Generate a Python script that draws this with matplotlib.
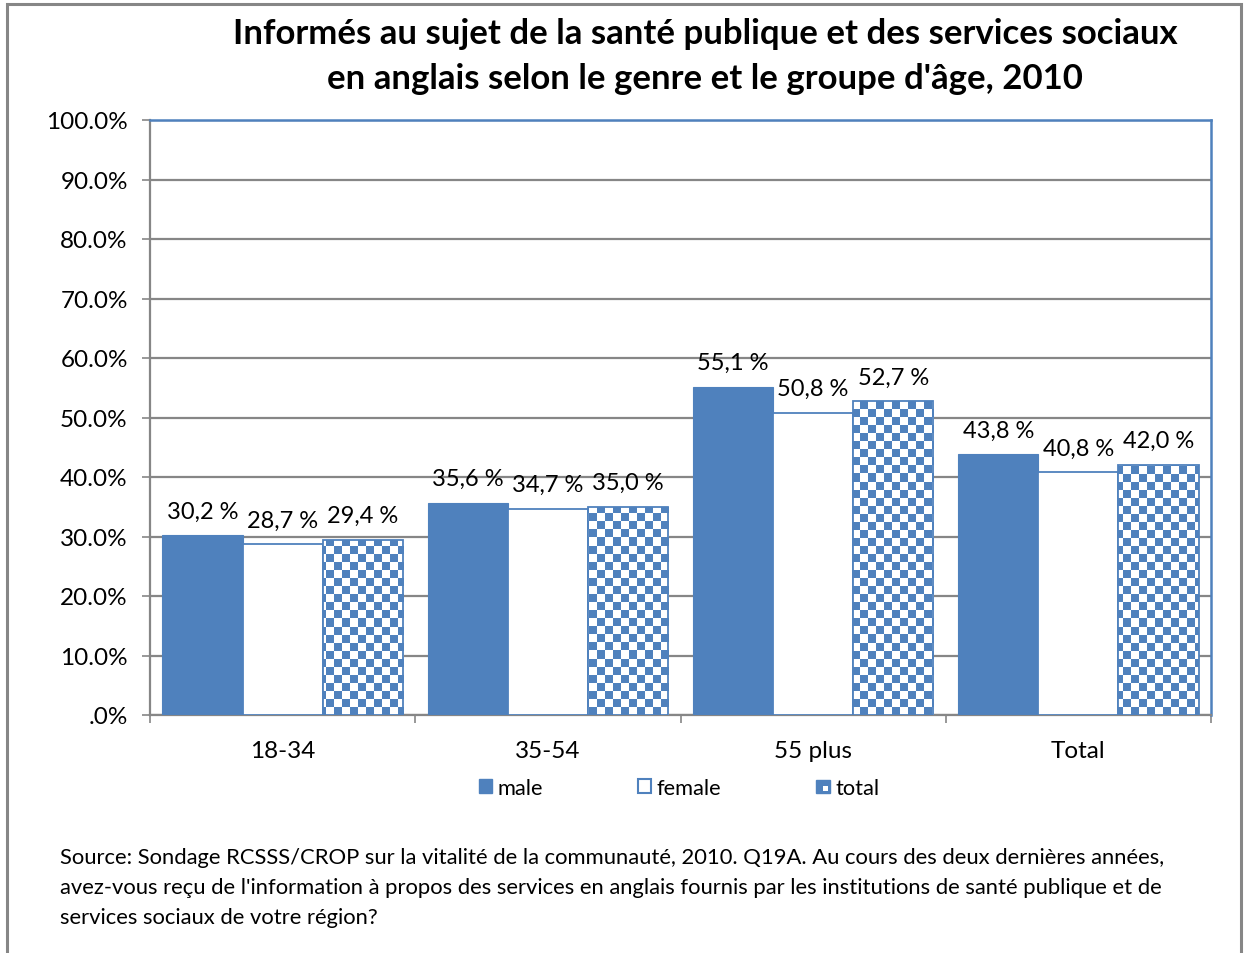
import numpy as np
import matplotlib
matplotlib.use('Agg')
import matplotlib.pyplot as plt
from matplotlib.patches import Rectangle
from matplotlib.colors import ListedColormap
from matplotlib.legend_handler import HandlerBase

categories = ['18-34', '35-54', '55 plus', 'Total']
male = [30.2, 35.6, 55.1, 43.8]
female = [28.7, 34.7, 50.8, 40.8]
total = [29.4, 35.0, 52.7, 42.0]
series_names = ['male', 'female', 'total']
yticks = [0, 10, 20, 30, 40, 50, 60, 70, 80, 90, 100]
ytick_labels = ['.0%', '10.0%', '20.0%', '30.0%', '40.0%', '50.0%',
                '60.0%', '70.0%', '80.0%', '90.0%', '100.0%']
title = ("Informés au sujet de la santé publique et des services sociaux\n"
         "en anglais selon le genre et le groupe d'âge, 2010")
source_lines = [
    "Source: Sondage RCSSS/CROP sur la vitalité de la communauté, 2010. Q19A. Au cours des deux dernières années,",
    "avez-vous reçu de l'information à propos des services en anglais fournis par les institutions de santé publique et de",
    "services sociaux de votre région?",
]

BLUE = '#4F81BD'
GRAY = '#868686'
plt.rcParams['font.family'] = ['Lato', 'DejaVu Sans']

W, H = 1244, 954
fig = plt.figure(figsize=(W / 100, H / 100), dpi=100)
fig.patches.append(Rectangle((7 / W, -0.02), (1241 - 7) / W, 1 - 5 / H + 0.02,
                             transform=fig.transFigure, fill=False,
                             edgecolor=GRAY, linewidth=2.2))

ax = fig.add_axes([150 / W, 1 - 716 / H, (1211 - 150) / W, (716 - 121) / H])
x = np.arange(len(categories))
w = 0.302

ax.bar(x - w, male, w, color=BLUE, edgecolor=BLUE, linewidth=0.8, zorder=3)
ax.bar(x, female, w, color='white', edgecolor=BLUE, linewidth=1.3, zorder=3)
bt = ax.bar(x + w, total, w, color='none', edgecolor=BLUE, linewidth=1.3, zorder=5)

# checkerboard fill for "total" bars
nx, ny = 133, 74
ii, jj = np.indices((ny, nx))
checker = (ii + jj) % 2
cmap = ListedColormap(['white', BLUE])
for p in bt.patches:
    im = ax.imshow(checker, extent=(-0.5, 3.5, 0, 100), aspect='auto',
                   interpolation='nearest', cmap=cmap, zorder=4, origin='lower')
    im.set_clip_path(p)

ax.set_xlim(-0.5, 3.5)
ax.set_ylim(0, 100)

for vals, off in ((male, -w), (female, 0), (total, w)):
    for xi, v in zip(x, vals):
        ax.annotate(f"{v:.1f} %".replace('.', ','), (xi + off, v),
                    xytext=(0, 10), textcoords='offset points',
                    ha='center', va='bottom', fontsize=17, zorder=6)

ax.set_yticks(yticks)
ax.set_yticklabels(ytick_labels, fontsize=17.5)
ax.yaxis.grid(True, color=GRAY, linewidth=1.6, zorder=0)
ax.set_axisbelow(True)
ax.tick_params(axis='y', direction='out', length=6, width=1.2, color=GRAY, pad=10)

ax.set_xticks(np.arange(-0.5, 4, 1))
ax.set_xticklabels([])
ax.set_xticks(x, minor=True)
ax.set_xticklabels(categories, minor=True, fontsize=17.5)
ax.tick_params(axis='x', which='major', direction='out', length=6, width=1.2, color=GRAY)
ax.tick_params(axis='x', which='minor', length=0, pad=18)

for s in ('left', 'bottom'):
    ax.spines[s].set_color(GRAY)
    ax.spines[s].set_linewidth(1.6)
for s in ('top', 'right'):
    ax.spines[s].set_color(BLUE)
    ax.spines[s].set_linewidth(1.8)


class CheckerHandler(HandlerBase):
    def create_artists(self, legend, orig_handle, xdescent, ydescent,
                       width, height, fontsize, trans):
        s = min(width, height)
        x0, y0 = -xdescent, -ydescent + (height - s) / 2
        outer = Rectangle((x0, y0), s, s, facecolor=BLUE, edgecolor=BLUE,
                          linewidth=1, transform=trans)
        inner = Rectangle((x0 + s / 2, y0 + s * 0.15), s * 0.35, s * 0.35,
                          facecolor='white', edgecolor='none', transform=trans)
        return [outer, inner]


h_male = Rectangle((0, 0), 1, 1, facecolor=BLUE, edgecolor=BLUE)
h_female = Rectangle((0, 0), 1, 1, facecolor='white', edgecolor=BLUE, linewidth=1.5)
h_total = Rectangle((0, 0), 1, 1)
fig.legend([h_male, h_female, h_total], series_names,
           loc='center', bbox_to_anchor=(679 / W, 1 - 789 / H), ncol=3,
           frameon=False, fontsize=15.75, handlelength=0.6, handleheight=0.6,
           handletextpad=0.25, columnspacing=4.35,
           handler_map={h_total: CheckerHandler()})

fig.text(705 / W, 1 - 56.5 / H, title, ha='center', va='center',
         fontsize=25, fontweight='bold', linespacing=1.5)

for i, line in enumerate(source_lines):
    fig.text(60 / W, 1 - (858 + 30 * i) / H, line, ha='left', va='center',
             fontsize=15.8)

fig.savefig('out.png', dpi=100)
